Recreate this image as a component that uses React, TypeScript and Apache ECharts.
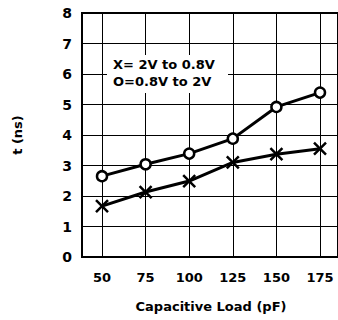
import React, { useEffect, useRef } from "react";
import * as echarts from "echarts";

const loads = [50, 75, 100, 125, 150, 175];
const fallTimes = [1.67, 2.13, 2.49, 3.1, 3.37, 3.55]; // X = 2V to 0.8V
const riseTimes = [2.65, 3.04, 3.39, 3.88, 4.92, 5.39]; // O = 0.8V to 2V
const yTicks = [0, 1, 2, 3, 4, 5, 6, 7, 8];
const legendLines = ["X= 2V to 0.8V", "O=0.8V to 2V"];

const FONT = "DejaVu Sans";
const CROSS = "path://M0,0 L10,10 M10,0 L0,10";
const TOP = 13;
const BOTTOM = 63;

export default function App() {
  const ref = useRef<HTMLDivElement>(null);
  useEffect(() => {
    if (!ref.current) return;
    const chart = echarts.init(ref.current, null, { renderer: "svg" });
    const yMin = yTicks[0];
    const yMax = yTicks[yTicks.length - 1];
    chart.setOption({
      animation: false,
      grid: [
        {
          left: 82,
          top: TOP,
          right: 0,
          bottom: BOTTOM,
          show: true,
          borderColor: "#000",
          borderWidth: 2,
        },
        {
          left: 102,
          top: TOP,
          right: 18,
          bottom: BOTTOM,
          show: false,
        },
      ],
      xAxis: [
        {
          gridIndex: 0,
          type: "value",
          min: 0,
          max: 1,
          axisLine: { show: true, lineStyle: { color: "#000", width: 2 } },
          axisTick: { show: false },
          axisLabel: { show: false },
          splitLine: { show: false },
        },
        {
          gridIndex: 1,
          type: "value",
          min: loads[0],
          max: loads[loads.length - 1],
          interval: 25,
          name: "Capacitive Load (pF)",
          nameLocation: "middle",
          nameGap: 43,
          nameTextStyle: { fontFamily: FONT, fontWeight: "bold", fontSize: 13, color: "#000" },
          axisLine: { show: false },
          axisLabel: {
            margin: 14,
            fontFamily: FONT,
            fontWeight: "bold",
            fontSize: 13,
            color: "#000",
          },
          axisTick: { show: true, length: 0, lineStyle: { color: "#000" } },
          splitLine: { show: true, lineStyle: { color: "#000", width: 1 } },
        },
      ],
      yAxis: [
        {
          gridIndex: 0,
          type: "value",
          min: yMin,
          max: yMax,
          interval: 1,
          name: "t (ns)",
          nameLocation: "middle",
          nameGap: 58,
          nameRotate: 90,
          nameTextStyle: { fontFamily: FONT, fontWeight: "bold", fontSize: 13, color: "#000" },
          axisLine: { show: true, lineStyle: { color: "#000", width: 2 } },
          axisTick: { show: false },
          axisLabel: {
            margin: 10,
            fontFamily: FONT,
            fontWeight: "bold",
            fontSize: 14,
            color: "#000",
          },
          splitLine: { show: true, lineStyle: { color: "#000", width: 1 } },
        },
        {
          gridIndex: 1,
          type: "value",
          min: yMin,
          max: yMax,
          interval: 1,
          axisLine: { show: false },
          axisTick: { show: false },
          axisLabel: { show: false },
          splitLine: { show: false },
        },
      ],
      series: [
        {
          type: "line",
          xAxisIndex: 1,
          yAxisIndex: 1,
          clip: false,
          data: loads.map((x, i) => [x, riseTimes[i]]),
          symbol: "circle",
          symbolSize: 10,
          lineStyle: { color: "#000", width: 3 },
          itemStyle: { color: "#fff", borderColor: "#000", borderWidth: 2.5 },
        },
        {
          type: "line",
          xAxisIndex: 1,
          yAxisIndex: 1,
          clip: false,
          data: loads.map((x, i) => [x, fallTimes[i]]),
          symbol: CROSS,
          symbolSize: 12,
          lineStyle: { color: "#000", width: 3 },
          itemStyle: { color: "#000", borderColor: "#000", borderWidth: 2.5 },
        },
      ],
      graphic: [
        {
          type: "rect",
          shape: { x: 107, y: 55, width: 121, height: 38 },
          style: { fill: "#fff" },
          z: 10,
        },
        {
          type: "text",
          x: 113,
          y: 58,
          style: {
            text: legendLines[0],
            font: `bold 13px "${FONT}"`,
            fill: "#000",
          },
          z: 11,
        },
        {
          type: "text",
          x: 113,
          y: 75,
          style: {
            text: legendLines[1],
            font: `bold 13px "${FONT}"`,
            fill: "#000",
          },
          z: 11,
        },
      ],
    });
    return () => chart.dispose();
  }, []);
  return (
    <div
      ref={ref}
      style={{ position: "fixed", left: 0, top: 0, width: 338, height: 320, background: "#fff" }}
    />
  );
}
